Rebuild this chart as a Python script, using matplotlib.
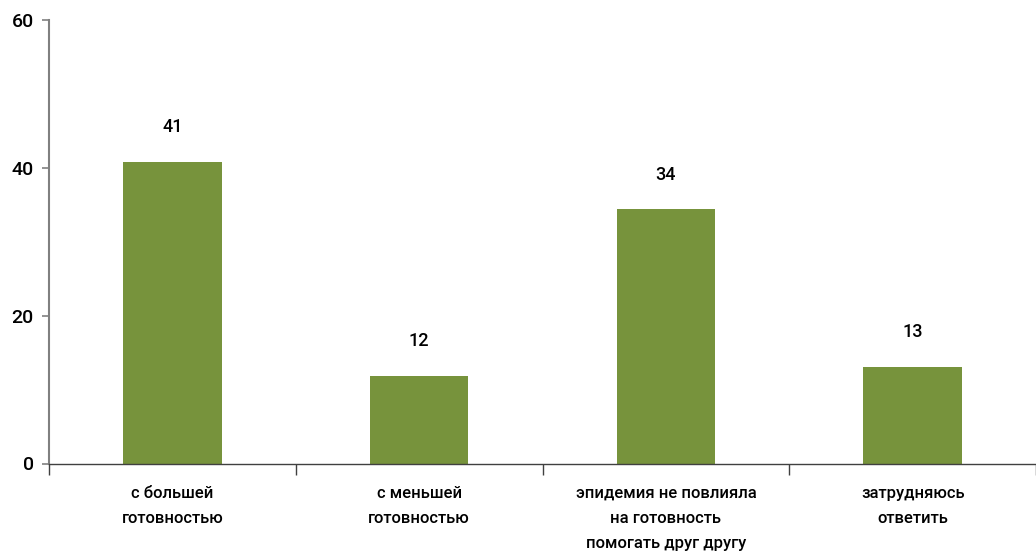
import matplotlib.pyplot as plt
import numpy as np

categories = ['с большей\nготовностью', 'с меньшей\nготовностью',
              'эпидемия не повлияла\nна готовность\nпомогать друг другу',
              'затрудняюсь\nответить']
values = [40.8, 11.9, 34.4, 13.1]
labels = ['41', '12', '34', '13']
yticks = [0, 20, 40, 60]

plt.rcParams['font.family'] = ['Roboto', 'DejaVu Sans']

fig = plt.figure(figsize=(10.36, 5.55), dpi=100)
ax = fig.add_axes([49 / 1036, 1 - 463.5 / 555, 987 / 1036, (463.5 - 20) / 555])

x = np.arange(len(values))
ax.bar(x, values, width=0.4, color='#77933c')
for xi, v, lab in zip(x, values, labels):
    ax.annotate(lab, (xi, v), xytext=(0, 25), textcoords='offset points',
                ha='center', va='center', fontsize=13, fontweight='medium')

ax.set_xlim(-0.5, -0.5 + 987 / 250.5)
ax.set_ylim(0, 60)
ax.set_yticks(yticks)
ax.tick_params(axis='y', labelsize=14, length=5, color='#808080', width=1.2, pad=6)
for t in ax.get_yticklabels():
    t.set_fontweight('medium')
ax.set_xticks(x)
ax.set_xticklabels(categories, fontsize=12, linespacing=1.85, fontweight='medium')
ax.tick_params(axis='x', length=0, pad=16)
ax.set_xticks(np.arange(len(values) + 1) - 0.5, minor=True)
ax.tick_params(axis='x', which='minor', length=8, color='#404040', width=1)

for s in ['top', 'right']:
    ax.spines[s].set_visible(False)
ax.spines['left'].set_color('#808080')
ax.spines['left'].set_linewidth(1.5)
ax.spines['bottom'].set_color('#404040')
ax.spines['bottom'].set_linewidth(1)

fig.savefig('out.png', dpi=100)
